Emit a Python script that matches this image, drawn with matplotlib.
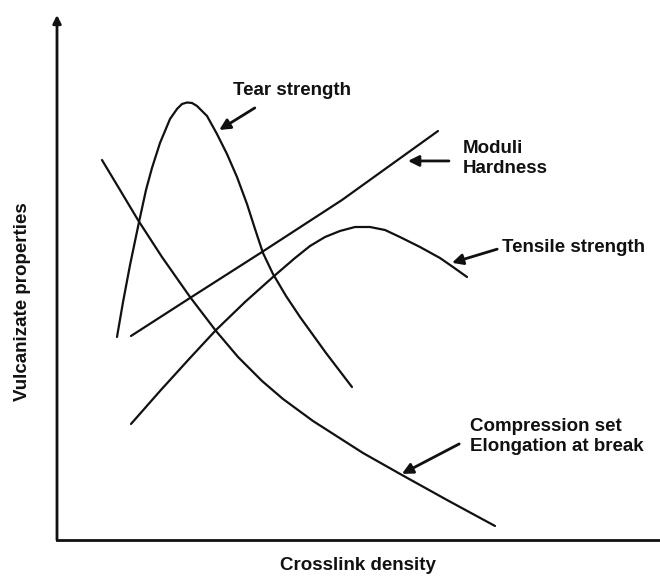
import numpy as np
import matplotlib
matplotlib.use("Agg")
import matplotlib.pyplot as plt

plt.rcParams['font.family'] = ['Liberation Sans', 'DejaVu Sans']

# property curves vs crosslink density (arbitrary units)
tear_x = [0.995, 1.095, 1.211, 1.360, 1.476, 1.575, 1.708, 1.874, 1.990, 2.073,
          2.156, 2.239, 2.322, 2.488, 2.653, 2.819, 2.985, 3.151, 3.284, 3.416,
          3.582, 3.798, 4.030, 4.461, 4.892]
tear_y = [3.867, 4.533, 5.238, 6.057, 6.667, 7.086, 7.562, 8.019, 8.210, 8.305,
          8.333, 8.324, 8.267, 8.076, 7.733, 7.352, 6.914, 6.400, 5.924, 5.467,
          5.067, 4.648, 4.248, 3.562, 2.914]

moduli_x = [1.227, 2.206, 3.400, 4.726, 6.318]
moduli_y = [3.886, 4.610, 5.486, 6.476, 7.790]

tensile_x = [1.227, 1.708, 2.206, 2.637, 3.118, 3.582, 3.947, 4.196, 4.444,
             4.693, 4.942, 5.191, 5.439, 5.688, 6.020, 6.352, 6.567, 6.799]
tensile_y = [2.210, 2.838, 3.467, 4.000, 4.533, 5.010, 5.371, 5.600, 5.771,
             5.886, 5.962, 5.962, 5.905, 5.771, 5.581, 5.371, 5.200, 5.010]

comp_x = [0.746, 1.045, 1.343, 1.741, 2.206, 2.637, 3.002, 3.400, 3.748,
          4.245, 5.075, 5.721, 6.468, 7.264]
comp_y = [7.238, 6.667, 6.095, 5.390, 4.629, 3.981, 3.486, 3.029, 2.686,
          2.267, 1.657, 1.238, 0.762, 0.267]

# label text, text position, arrow tail, arrow tip
labels = ["Tear strength", "Moduli\nHardness", "Tensile strength",
          "Compression set\nElongation at break"]
label_pos = [(3.90, 8.57), (6.73, 7.26), (7.38, 5.58), (6.85, 1.97)]
label_ha = ["center", "left", "left", "left"]
arrow_from = [(3.28, 8.23), (6.50, 7.22), (7.30, 5.54), (6.67, 1.83)]
arrow_to = [(2.69, 7.81), (5.82, 7.22), (6.55, 5.28), (5.72, 1.26)]

fig = plt.figure(figsize=(6.6, 5.76), dpi=100)
ax = fig.add_axes([57 / 660, 36 / 576, 603 / 660, 525 / 576])
ax.set_xlim(0, 10)
ax.set_ylim(0, 10)

for xs, ys in [(tear_x, tear_y), (moduli_x, moduli_y),
               (tensile_x, tensile_y), (comp_x, comp_y)]:
    ax.plot(xs, ys, color='#111111', lw=1.6, solid_capstyle='round',
            solid_joinstyle='round')

for txt, pos, ha, a0, a1 in zip(labels, label_pos, label_ha, arrow_from, arrow_to):
    ax.text(pos[0], pos[1], txt, ha=ha, va='center', fontsize=13.5,
            fontweight='bold', color='#111111', linespacing=1.25)
    ax.annotate("", xy=a1, xytext=a0,
                arrowprops=dict(arrowstyle='-|>', color='#111111', lw=2,
                                mutation_scale=16, shrinkA=0, shrinkB=0))

# axes: plain x line, y line with arrow head
for s in ['top', 'right', 'left']:
    ax.spines[s].set_visible(False)
ax.spines['bottom'].set_linewidth(2)
ax.spines['bottom'].set_color('#111111')
ax.annotate("", xy=(0, 1), xytext=(0, 0), xycoords='axes fraction',
            arrowprops=dict(arrowstyle='-|>', color='#111111', lw=2,
                            mutation_scale=12, shrinkA=0, shrinkB=0))
ax.set_xticks([])
ax.set_yticks([])

fig.text(358 / 660, 1 - 565 / 576, "Crosslink density", ha='center', va='center',
         fontsize=13.5, fontweight='bold', color='#111111')
fig.text(23 / 660, 1 - 302 / 576, "Vulcanizate properties", ha='center', va='center',
         rotation=90, fontsize=13.5, fontweight='bold', color='#111111')

fig.savefig("out.png", dpi=100)
